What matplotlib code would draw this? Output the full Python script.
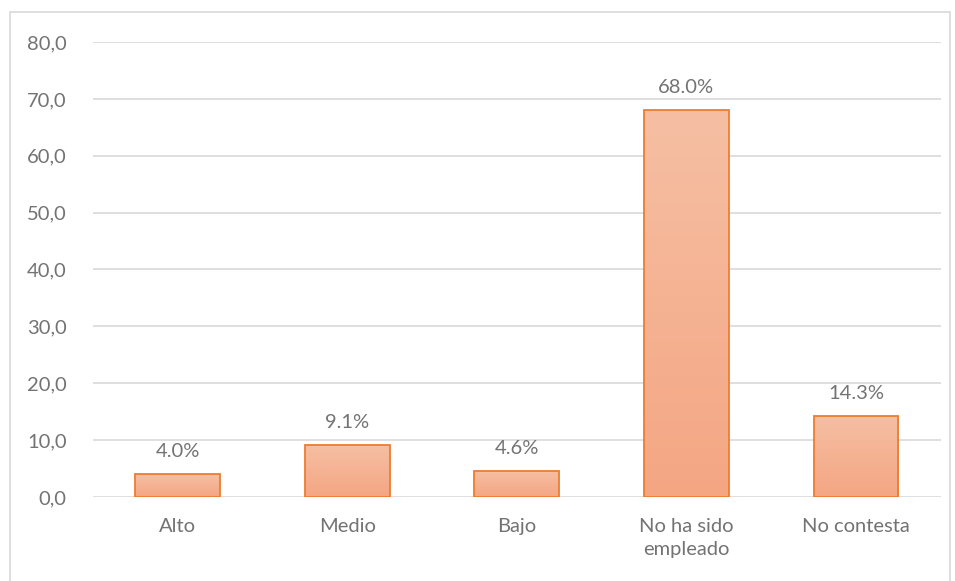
import numpy as np
import matplotlib.pyplot as plt
from matplotlib.patches import Rectangle
from matplotlib.colors import LinearSegmentedColormap

# data
categories = ['Alto', 'Medio', 'Bajo', 'No ha sido\nempleado', 'No contesta']
values = [4.0, 9.1, 4.6, 68.0, 14.3]
yticks = [0, 10, 20, 30, 40, 50, 60, 70, 80]

plt.rcParams['font.family'] = ['Lato', 'DejaVu Sans']
txt = '#737373'
fs = 14.5

fig = plt.figure(figsize=(9.55, 5.81), dpi=100)
ax = fig.add_axes([0.0974, 0.1446, 0.8876, 0.7831])

# outer chart border
fig.patches.append(Rectangle((10/955, -0.05), 940/955, 1.05 - 12/581,
                             transform=fig.transFigure, fill=False,
                             edgecolor='#d9d9d9', linewidth=1.2))

x = np.arange(len(categories))
bars = ax.bar(x, values, width=0.5, facecolor='none', edgecolor='#ED7D31',
              linewidth=1.3, zorder=3)

# vertical gradient fill for each bar
cmap = LinearSegmentedColormap.from_list('g', ['#F4A683', '#F6BFA3'])
grad = np.linspace(0, 1, 256).reshape(-1, 1)
for b in bars:
    x0, w, h = b.get_x(), b.get_width(), b.get_height()
    im = ax.imshow(grad, cmap=cmap, origin='lower', aspect='auto',
                   extent=[x0, x0 + w, 0, h], zorder=2)
    im.set_clip_path(b)

for xi, v in zip(x, values):
    ax.annotate(f'{v:.1f}%', (xi, v), xytext=(0, 10), textcoords='offset points',
                ha='center', va='bottom', fontsize=fs, color=txt)

ax.set_xlim(-0.5, len(categories) - 0.5)
ax.set_ylim(0, 80)
ax.set_yticks(yticks)
ax.set_yticklabels([f'{t:.1f}'.replace('.', ',') for t in yticks])
ax.set_xticks(x)
ax.set_xticklabels(categories, linespacing=1.45)
ax.tick_params(axis='both', length=0, labelsize=fs, colors=txt)
ax.tick_params(axis='y', pad=19)
ax.tick_params(axis='x', pad=15)
ax.grid(axis='y', color='#d9d9d9', linewidth=1.2, zorder=0)
ax.set_axisbelow(True)
for s in ax.spines.values():
    s.set_visible(False)

fig.savefig('out.png', dpi=100)
